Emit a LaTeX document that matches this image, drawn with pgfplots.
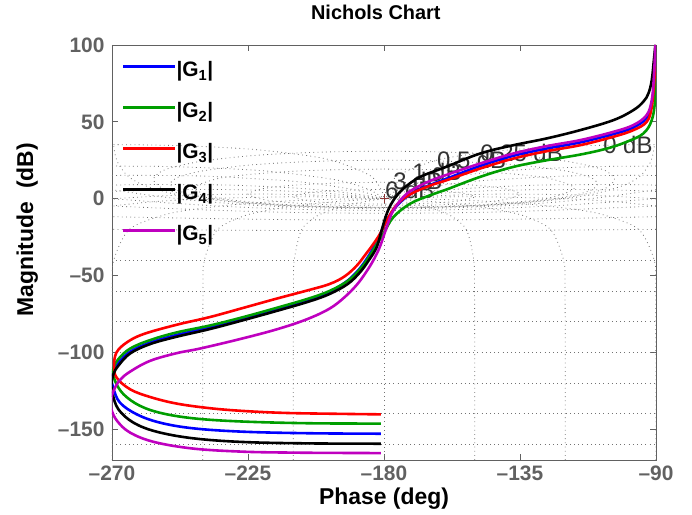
\documentclass[border=0pt]{standalone}
\usepackage{pgfplots}
\pgfplotsset{compat=1.18}
\usepackage{fontspec}
\setmainfont{Liberation Sans}
\definecolor{tickgray}{rgb}{0.38,0.38,0.38}
\definecolor{gridgray}{rgb}{0.45,0.45,0.45}
\definecolor{mygreen}{rgb}{0,0.62,0}
\definecolor{mymag}{rgb}{0.75,0,0.75}
\definecolor{lblgray}{rgb}{0.2,0.2,0.2}
\definecolor{plusred}{rgb}{0.55,0.2,0.2}
\begin{document}
\begin{tikzpicture}
\begin{axis}[name=ax, scale only axis, width=544bp, height=415bp,
  xmin=-270, xmax=-90, ymin=-170, ymax=100,
  xtick={-270,-225,-180,-135,-90}, xticklabels={–270,–225,–180,–135,–90},
  ytick={-150,-100,-50,0,50,100}, yticklabels={–150,–100,–50,0,50,100},
  tick align=inside, major tick length=6bp,
  axis line style={tickgray, line width=0.8bp},
  every tick/.style={tickgray, line width=0.8bp},
  tick label style={font=\bfseries\fontsize{21}{21}\selectfont, text=tickgray},
  xticklabel style={yshift=-2bp},
  yticklabel style={xshift=-4bp},
  title={Nichols Chart},
  title style={font=\bfseries\fontsize{20}{20}\selectfont, at={(axis description cs:0.485,1.064)}, anchor=center},
  xlabel={Phase (deg)},
  xlabel style={font=\bfseries\fontsize{23}{23}\selectfont, at={(axis description cs:0.5,-0.093)}, anchor=center},
  ylabel={Magnitude\ \ (dB)},
  ylabel style={font=\bfseries\fontsize{23}{23}\selectfont, at={(axis description cs:-0.156,0.555)}, anchor=center},
  legend style={at={(axis description cs:0.018,0.962)}, anchor=north west, draw=none, fill=none, inner sep=0pt,
    font=\bfseries\fontsize{21}{21}\selectfont, row sep=20bp,
    nodes={inner sep=0pt, text height=16bp, text depth=5bp}},
  legend cell align=left,
  legend image code/.code={\draw[#1, line width=1bp] (0bp,5bp) -- (48bp,5bp); \path (0bp,5bp) -- (52bp,5bp);},
  grd/.style={gridgray, line width=0.8bp, dash pattern=on 0.8bp off 3.4bp, forget plot},
  crv/.style={line width=2.6bp, smooth, tension=0.6},
]
% ---- Nichols grid: closed-loop magnitude contours ----
\addplot[grd] coordinates {(-270,-40) (-90,-40)};
\addplot[grd] coordinates {(-270,-60) (-90,-60)};
\addplot[grd] coordinates {(-270,-80) (-90,-80)};
\addplot[grd] coordinates {(-270,-100) (-90,-100)};
\addplot[grd] coordinates {(-270,-120) (-90,-120)};
\addplot[grd] coordinates {(-270,-140) (-90,-140)};
\addplot[grd] coordinates {(-270,-160) (-90,-160)};
\addplot[grd, smooth] coordinates {(-90,-19.96) (-135,-20.57) (-180,-20.83) (-225,-20.57) (-270,-19.96)};
\addplot[grd, smooth] coordinates {(-90,-11.72) (-120,-12.84) (-150,-13.65) (-180,-13.95) (-210,-13.65) (-240,-12.84) (-270,-11.72)};
\addplot[grd, smooth] coordinates {(-90,-4.74) (-100,-5.61) (-120,-7.22) (-135,-8.21) (-150,-8.94) (-180,-9.53) (-210,-8.94) (-225,-8.21) (-240,-7.22) (-260,-5.61) (-270,-4.74)};
\addplot[grd, smooth] coordinates {(-90,0.02) (-100,-1.48) (-110,-2.90) (-120,-4.17) (-135,-5.71) (-150,-6.80) (-165,-7.44) (-180,-7.65) (-195,-7.44) (-210,-6.80) (-225,-5.71) (-240,-4.17) (-250,-2.90) (-260,-1.48) (-270,0.02)};
\addplot[grd, smooth] coordinates {(-90,5.87) (-100,2.96) (-110,0.4) (-120,-1.68) (-135,-3.96) (-150,-5.44) (-165,-6.27) (-180,-6.53) (-195,-6.27) (-210,-5.44) (-225,-3.96) (-240,-1.68) (-250,0.4) (-260,2.96) (-270,5.87)};
\addplot[grd, smooth] coordinates {(-90.6,34.0) (-91,29.1) (-92,23.1) (-95,15.2) (-100,9.2) (-110,3.3) (-120,0) (-135,-3.0) (-150,-4.8) (-165,-5.7) (-180,-6.0) (-195,-5.7) (-210,-4.8) (-225,-3.0) (-240,0) (-250,3.3) (-260,9.2) (-265,15.2) (-268,23.1) (-269,29.1) (-269.4,34.0)};
\addplot[grd, smooth] coordinates {(-180,30.9) (-165,30.6) (-150,29.6) (-135,27.8) (-120,24.5) (-110,20.4) (-106,17.4) (-103.7,12.5) (-106,7.6) (-110,4.6) (-120,0.53) (-135,-2.75) (-150,-4.62) (-165,-5.59) (-180,-5.89) (-195,-5.59) (-210,-4.62) (-225,-2.75) (-240,0.53) (-250,4.6) (-254,7.6) (-256.3,12.5) (-254,17.4) (-250,20.4) (-240,24.5) (-225,27.8) (-210,29.6) (-195,30.6) (-180,30.9)};
\addplot[grd, smooth] coordinates {(-180,25.05) (-165,24.7) (-150,23.7) (-135,21.8) (-120,18.1) (-112,14.1) (-109.3,9.6) (-112,5.15) (-120,1.15) (-135,-2.5) (-150,-4.45) (-165,-5.46) (-180,-5.79) (-195,-5.46) (-210,-4.45) (-225,-2.5) (-240,1.15) (-248,5.15) (-250.7,9.6) (-248,14.1) (-240,18.1) (-225,21.8) (-210,23.7) (-195,24.7) (-180,25.05)};
\addplot[grd, smooth] coordinates {(-180,19.27) (-165,18.9) (-150,17.84) (-135,15.67) (-125,13.06) (-117,6.87) (-125,0.68) (-135,-1.94) (-150,-4.10) (-165,-5.19) (-180,-5.53) (-195,-5.19) (-210,-4.10) (-225,-1.94) (-235,0.68) (-243,6.87) (-235,13.06) (-225,15.67) (-210,17.84) (-195,18.9) (-180,19.27)};
\addplot[grd, smooth] coordinates {(-180,10.69) (-165,10.26) (-150,8.76) (-140,6.57) (-135,3.02) (-140,-0.53) (-150,-2.72) (-165,-4.22) (-180,-4.65) (-195,-4.22) (-210,-2.72) (-220,-0.53) (-225,3.02) (-220,6.57) (-210,8.76) (-195,10.26) (-180,10.69)};
\addplot[grd, smooth] coordinates {(-180,6.04) (-165,5.4) (-155,3.92) (-150,1.26) (-155,-1.41) (-165,-2.89) (-180,-3.53) (-195,-2.89) (-205,-1.41) (-210,1.26) (-205,3.92) (-195,5.4) (-180,6.04)};
% ---- Nichols grid: closed-loop phase contours ----
\addplot[grd, smooth] coordinates {(-90.5,35.2) (-96.9,35.1) (-106.5,34.8) (-120,34.0) (-138.9,31.7) (-160.8,25.9) (-175,15.5) (-179,6.0) (-180,0)};
\addplot[grd, smooth] coordinates {(-269.5,35.2) (-263.1,35.1) (-253.5,34.8) (-240,34.0) (-221.1,31.7) (-199.2,25.9) (-185,15.5) (-181,6.0) (-180,0)};
\addplot[grd, smooth] coordinates {(-90,21.2) (-92.5,21.2) (-111.2,20.8) (-140,18.2) (-164,12.3) (-175,5.95) (-180,0)};
\addplot[grd, smooth] coordinates {(-270,21.2) (-267.5,21.2) (-248.8,20.8) (-220,18.2) (-196,12.3) (-185,5.95) (-180,0)};
\addplot[grd, smooth] coordinates {(-90,15.1) (-95,15.2) (-110.6,15.06) (-123.6,14.45) (-151.1,11.16) (-170.3,5.77) (-180,0)};
\addplot[grd, smooth] coordinates {(-270,15.1) (-265,15.2) (-249.4,15.06) (-236.4,14.45) (-208.9,11.16) (-189.7,5.77) (-180,0)};
\addplot[grd, smooth] coordinates {(-90,8.75) (-100,9.19) (-127.3,8.92) (-148.6,7.18) (-162.1,5.08) (-173.6,2.27) (-180,0)};
\addplot[grd, smooth] coordinates {(-270,8.75) (-260,9.19) (-232.7,8.92) (-211.4,7.18) (-197.9,5.08) (-186.4,2.27) (-180,0)};
\addplot[grd, smooth] coordinates {(-90,4.75) (-105,5.72) (-123.7,6.0) (-141.7,5.38) (-156.2,4.16) (-173.1,1.6) (-180,0)};
\addplot[grd, smooth] coordinates {(-270,4.75) (-255,5.72) (-236.3,6.0) (-218.3,5.38) (-203.8,4.16) (-186.9,1.6) (-180,0)};
\addplot[grd, smooth] coordinates {(-90,0) (-112.5,2.32) (-138.3,3.0) (-151.3,2.65) (-167.9,1.49) (-180,0)};
\addplot[grd, smooth] coordinates {(-270,0) (-247.5,2.32) (-221.7,3.0) (-208.7,2.65) (-192.1,1.49) (-180,0)};
\addplot[grd, smooth] coordinates {(-90,-4.77) (-103,-2.08) (-120,0) (-150,1.25) (-169.1,0.76) (-180,0)};
\addplot[grd, smooth] coordinates {(-270,-4.77) (-257,-2.08) (-240,0) (-210,1.25) (-190.9,0.76) (-180,0)};
\addplot[grd, smooth] coordinates {(-90,-170) (-90.1,-60) (-90.6,-40) (-95.7,-20.04) (-106.7,-10.9) (-116.6,-6.99) (-135,-3.01) (-153.4,-0.97) (-168.7,-0.17) (-180,0)};
\addplot[grd, smooth] coordinates {(-270,-170) (-269.9,-60) (-269.4,-40) (-264.3,-20.04) (-253.3,-10.9) (-243.4,-6.99) (-225,-3.01) (-206.6,-0.97) (-191.3,-0.17) (-180,0)};
\addplot[grd, smooth] coordinates {(-120,-170) (-120.1,-60) (-120.6,-40) (-124.7,-20.45) (-132.7,-11.9) (-139.1,-8.45) (-150,-4.77) (-160.9,-2.43) (-171,-0.93) (-177.6,-0.22) (-180,0)};
\addplot[grd, smooth] coordinates {(-240,-170) (-239.9,-60) (-239.4,-40) (-235.3,-20.45) (-227.3,-11.9) (-220.9,-8.45) (-210,-4.77) (-199.1,-2.43) (-189,-0.93) (-182.4,-0.22) (-180,0)};
\addplot[grd, smooth] coordinates {(-150,-170) (-150.03,-60) (-150.3,-40) (-152.6,-20.7) (-156.8,-12.5) (-159.9,-9.28) (-165,-5.72) (-170.1,-3.25) (-175.1,-1.42) (-178.6,-0.37) (-180,0)};
\addplot[grd, smooth] coordinates {(-210,-170) (-209.97,-60) (-209.7,-40) (-207.4,-20.7) (-203.2,-12.5) (-200.1,-9.28) (-195,-5.72) (-189.9,-3.25) (-184.9,-1.42) (-181.4,-0.37) (-180,0)};
\addplot[grd] coordinates {(-180,-170) (-180,0)};
% ---- grid labels ----
\node[anchor=west, inner sep=0pt, font=\fontsize{24}{24}\selectfont, text=lblgray] at (axis cs:-148.2,29.6) {0.25 dB};
\node[anchor=west, inner sep=0pt, font=\fontsize{24}{24}\selectfont, text=lblgray] at (axis cs:-162.5,25) {0.5 dB};
\node[anchor=west, inner sep=0pt, font=\fontsize{24}{24}\selectfont, text=lblgray] at (axis cs:-170.7,17.2) {1 dB};
\node[anchor=west, inner sep=0pt, font=\fontsize{24}{24}\selectfont, text=lblgray] at (axis cs:-177,11.3) {3 dB};
\node[anchor=west, inner sep=0pt, font=\fontsize{24}{24}\selectfont, text=lblgray] at (axis cs:-179.7,5.4) {6 dB};
\node[anchor=west, inner sep=0pt, font=\fontsize{24}{24}\selectfont, text=lblgray] at (axis cs:-107.5,34.8) {0 dB};
\addplot[only marks, mark=+, mark size=4.5bp, plusred, line width=0.7bp, forget plot] coordinates {(-180,0)};
% ---- open-loop curves ----
\addplot[crv, blue] coordinates {(-181,-152.9) (-204.5,-152.6) (-226.5,-151.6) (-243.1,-149.4) (-254.1,-145.7) (-261.8,-140.3) (-267.4,-132.6) (-269.6,-122.9) (-270,-116) (-267.9,-107) (-264,-99.5) (-257.4,-93.6) (-248.6,-88.6) (-237.6,-83.8) (-226.5,-78.2) (-215.5,-72) (-205,-66) (-198,-60.5) (-192.5,-54) (-188.5,-46.5) (-185.5,-38.5) (-183,-30) (-181,-22) (-178.5,-12) (-175,-3) (-170,4.5) (-164,9.5) (-159.3,13) (-148.2,21.3) (-137.2,27.9) (-126.2,32.6) (-115.1,36.6) (-104.1,42) (-97.5,46.3) (-93.1,52.6) (-91.4,62) (-90.5,79.4) (-90.2,100)};
\addlegendentry{|G\textsubscript{1}|}
\addplot[crv, mygreen] coordinates {(-181,-146.3) (-204.5,-146.1) (-226.5,-145) (-242,-143.1) (-253,-139.8) (-260.7,-134.8) (-266.2,-127.2) (-269,-118.5) (-269.6,-111) (-267.9,-104.4) (-264,-97.5) (-257.4,-92) (-248.6,-87) (-237.6,-82.5) (-226.5,-77) (-215.5,-71) (-205,-65) (-198,-60) (-192,-53.5) (-188,-46) (-185,-38) (-182.5,-30) (-180.2,-22.8) (-176.9,-12) (-171.4,-3.3) (-164.8,2.2) (-159.3,6) (-148.2,14.2) (-137.2,20.7) (-126.2,25.0) (-115.1,28.7) (-106.3,32.6) (-99.7,37.0) (-94.2,42.4) (-91.4,51.1) (-90.3,64.2) (-90,82) (-89.9,100)};
\addlegendentry{|G\textsubscript{2}|}
\addplot[crv, red] coordinates {(-181,-140.3) (-193.5,-140.0) (-212.2,-139.4) (-226.5,-138.1) (-237.6,-136.3) (-248.6,-133.3) (-257.4,-129) (-264,-124) (-268.5,-116.3) (-269.3,-108.5) (-268.5,-100) (-265.1,-93.5) (-259.6,-88.1) (-248.6,-82) (-237.6,-77) (-226.5,-71) (-215.5,-65) (-205,-59.5) (-198,-55.5) (-193,-50.5) (-189,-43.5) (-186,-36) (-183.5,-29.4) (-181.3,-22.8) (-179.1,-14.2) (-175.8,-4) (-171.4,2.8) (-164.8,8.5) (-159.3,12) (-148.2,19.6) (-137.2,26.1) (-126.2,30.9) (-115.1,34.8) (-104.1,40.3) (-97.5,44.6) (-93.1,50.0) (-91.4,59.8) (-90.4,81.6) (-90.1,100)};
\addlegendentry{|G\textsubscript{3}|}
\addplot[crv, black] coordinates {(-181,-159.4) (-204.5,-159.2) (-226.5,-158.3) (-243.1,-155.9) (-255.2,-151.6) (-262.9,-145.7) (-267.9,-137) (-269.8,-127) (-270.2,-121) (-269.5,-114) (-267.9,-108.7) (-264,-100.7) (-257.4,-94.6) (-248.6,-89.8) (-237.6,-84.8) (-226.5,-79) (-215.5,-73) (-205,-67) (-198,-62) (-192,-55.5) (-188,-48) (-185,-40) (-182.4,-31.5) (-180.8,-20.7) (-179.1,-9.8) (-176.9,-1.1) (-173.6,6.5) (-168.1,14.1) (-159.3,20.8) (-148.2,29.4) (-137.2,34.8) (-126.2,39.2) (-115.1,44.6) (-104.1,51.1) (-97.5,57.6) (-94.2,63.1) (-92.5,68.5) (-91.4,77.2) (-90.7,90.3) (-90.2,100)};
\addlegendentry{|G\textsubscript{4}|}
\addplot[crv, mymag] coordinates {(-181,-165.5) (-195,-165.4) (-210,-165.2) (-226.5,-164.6) (-243,-162.6) (-256,-158.3) (-264,-152.2) (-268.3,-144.6) (-270.2,-137) (-270.3,-131) (-269.5,-125) (-267.4,-118) (-264,-112.5) (-257.4,-105.5) (-248.6,-100.5) (-240.9,-97.5) (-227.6,-91.3) (-215.5,-85) (-205.6,-78.5) (-198,-71.5) (-193,-64) (-189,-56) (-186,-48) (-183.5,-40) (-181.3,-31) (-179.1,-18.5) (-176.9,-7.6) (-172.5,3.2) (-166,10.5) (-159.3,15.5) (-148.2,22.9) (-137.2,29.4) (-126.2,34.2) (-115.1,38.1) (-104.1,43.5) (-97.5,47.9) (-93.1,54.4) (-91.4,64.2) (-90.7,79.4) (-90.2,100)};
\addlegendentry{|G\textsubscript{5}|}
\end{axis}
\pgfresetboundingbox
\path[use as bounding box] (ax.south west) ++(-112bp,-55bp) rectangle ++(692bp,515bp);
\end{tikzpicture}
\end{document}
